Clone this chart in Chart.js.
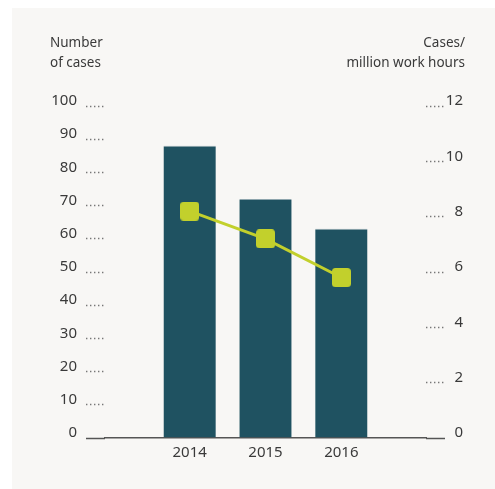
<!DOCTYPE html>
<html>
<head>
<meta charset="utf-8">
<script src="https://cdn.jsdelivr.net/npm/chart.js"></script>
<style>
  html, body { margin: 0; padding: 0; background: #ffffff; }
  #wrap { position: relative; width: 495px; height: 489px; }
  #panel { position: absolute; left: 12px; top: 8px; right: 0; bottom: 0; background: #f8f7f5; }
  #chart { position: absolute; left: 0; top: 0; }
  .axis-title {
    position: absolute; top: 32px;
    font-family: "Noto Sans", sans-serif; font-size: 13.5px; line-height: 20px; color: #3a3a3a;
  }
  #title-left { left: 50px; }
  #title-right { right: 30px; text-align: right; }
</style>
</head>
<body>
<div id="wrap">
  <div id="panel"></div>
  <canvas id="chart" width="495" height="489"></canvas>
  <div class="axis-title" id="title-left">Number<br>of cases</div>
  <div class="axis-title" id="title-right">Cases/<br>million work hours</div>
</div>
<script>
// data
const years = [2014, 2015, 2016];
const caseCounts = [88, 72, 63];
const casesPerMillionHours = [8.2, 7.2, 5.8];
const countTicks = [0, 10, 20, 30, 40, 50, 60, 70, 80, 90, 100];
const rateTicks = [0, 2, 4, 6, 8, 10, 12];

const barColor = '#1f5261';
const lineColor = '#c2d02c';
const textColor = '#3a3a3a';
const tickFont = { family: '"Noto Sans", sans-serif', size: 15 };

// rounded square marker for the line
function makeMarker(size, radius, color) {
  const c = document.createElement('canvas');
  c.width = size;
  c.height = size;
  const g = c.getContext('2d');
  g.fillStyle = color;
  g.beginPath();
  g.roundRect(0, 0, size, size, radius);
  g.fill();
  return c;
}

// dotted tick marks, solid one at zero (continues the baseline)
const dottedTicks = {
  drawOnChartArea: false,
  tickLength: 19,
  tickColor: ctx => ctx.tick && ctx.tick.value === 0 ? '#555' : '#777',
  tickWidth: ctx => ctx.tick && ctx.tick.value === 0 ? 1.5 : 1.4,
  tickBorderDash: ctx => ctx.tick && ctx.tick.value === 0 ? [] : [1.4, 2.6]
};

new Chart(document.getElementById('chart'), {
  type: 'bar',
  data: {
    datasets: [{
      type: 'line',
      data: years.map((y, i) => ({ x: y, y: casesPerMillionHours[i] })),
      yAxisID: 'y1',
      borderColor: lineColor,
      borderWidth: 3,
      pointStyle: makeMarker(19, 3.5, lineColor),
      pointRadius: 10,
      order: 0
    }, {
      type: 'bar',
      data: years.map((y, i) => ({ x: y, y: caseCounts[i] })),
      yAxisID: 'y',
      backgroundColor: barColor,
      borderColor: '#8ea5ad',
      borderWidth: { top: 1, right: 0, bottom: 0, left: 0 },
      borderSkipped: 'start',
      categoryPercentage: 1,
      barPercentage: 0.69,
      order: 1
    }]
  },
  options: {
    responsive: false,
    animation: false,
    layout: { padding: { top: 106, left: 0, right: 32, bottom: 0 } },
    plugins: { legend: { display: false }, tooltip: { enabled: false } },
    scales: {
      x: {
        type: 'linear',
        offset: false,
        min: years[0] - 1.116,
        max: years[years.length - 1] + 1.116,
        grid: { display: false, drawTicks: false },
        border: { color: '#555', width: 1.5 },
        afterBuildTicks: s => { s.ticks = years.map(v => ({ value: v })); },
        afterFit: s => { s.height = 51; },
        ticks: {
          callback: v => String(v),
          autoSkip: false,
          maxRotation: 0,
          padding: 6,
          color: textColor,
          font: tickFont
        }
      },
      y: {
        position: 'left',
        min: 0,
        max: 100,
        afterBuildTicks: s => { s.ticks = countTicks.map(v => ({ value: v })); },
        afterFit: s => { s.width = 105; },
        border: { display: false },
        grid: dottedTicks,
        ticks: { padding: 9, labelOffset: -5, color: textColor, font: tickFont }
      },
      y1: {
        position: 'right',
        min: 0,
        max: 12,
        afterBuildTicks: s => { s.ticks = rateTicks.map(v => ({ value: v })); },
        afterFit: s => { s.width = 37; },
        border: { display: false },
        grid: dottedTicks,
        ticks: { padding: 1, labelOffset: -5, crossAlign: 'far', color: textColor, font: tickFont }
      }
    }
  }
});
</script>
</body>
</html>
